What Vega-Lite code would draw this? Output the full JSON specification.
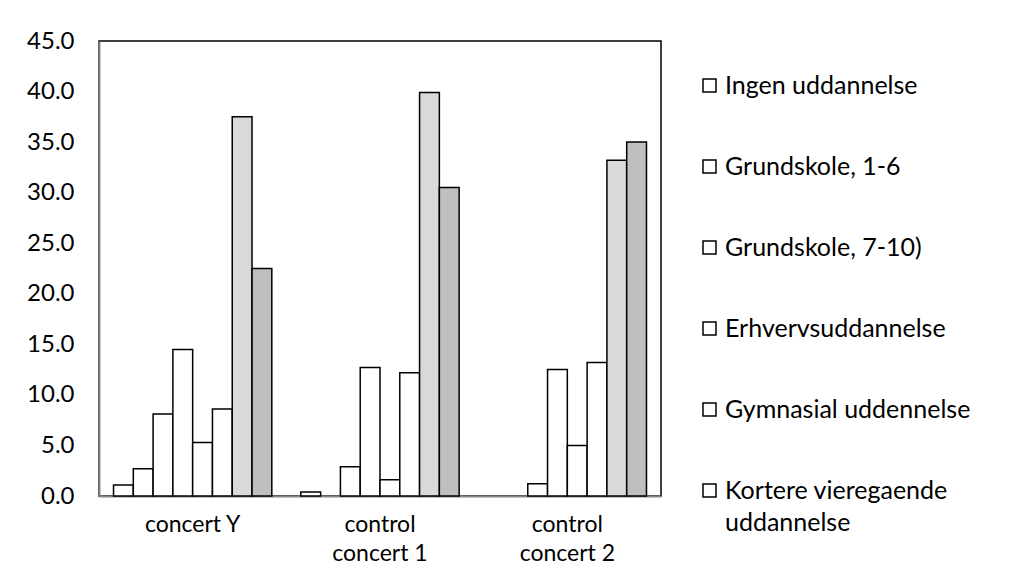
{
  "$schema": "https://vega.github.io/schema/vega-lite/v6.json",
  "width": 562,
  "height": 455,
  "autosize": {"type": "none"},
  "padding": {"left": 99, "top": 41, "right": 349, "bottom": 91},
  "background": "white",
  "config": {
    "font": "Lato",
    "view": {"stroke": "black", "strokeWidth": 1.5},
    "axis": {"labelFont": "Lato", "labelColor": "black", "labelFontSize": 23, "grid": false},
    "style": {"guide-label": {"lineHeight": 32}}
  },
  "data": {
    "values": [
      {"group": "concert Y", "level": "Ingen uddannelse", "pct": 1.1},
      {"group": "concert Y", "level": "Grundskole, 1-6", "pct": 2.7},
      {"group": "concert Y", "level": "Grundskole, 7-10)", "pct": 8.1},
      {"group": "concert Y", "level": "Erhvervsuddannelse", "pct": 14.5},
      {"group": "concert Y", "level": "Gymnasial uddennelse", "pct": 5.3},
      {"group": "concert Y", "level": "Kortere vieregaende uddannelse", "pct": 8.6},
      {"group": "concert Y", "level": "Mellemlange videregaende uddannelse", "pct": 37.5},
      {"group": "concert Y", "level": "Lange videregaende uddannelse", "pct": 22.5},
      {"group": "control concert 1", "level": "Ingen uddannelse", "pct": 0.4},
      {"group": "control concert 1", "level": "Grundskole, 7-10)", "pct": 2.9},
      {"group": "control concert 1", "level": "Erhvervsuddannelse", "pct": 12.7},
      {"group": "control concert 1", "level": "Gymnasial uddennelse", "pct": 1.6},
      {"group": "control concert 1", "level": "Kortere vieregaende uddannelse", "pct": 12.2},
      {"group": "control concert 1", "level": "Mellemlange videregaende uddannelse", "pct": 39.9},
      {"group": "control concert 1", "level": "Lange videregaende uddannelse", "pct": 30.5},
      {"group": "control concert 2", "level": "Grundskole, 7-10)", "pct": 1.2},
      {"group": "control concert 2", "level": "Erhvervsuddannelse", "pct": 12.5},
      {"group": "control concert 2", "level": "Gymnasial uddennelse", "pct": 5.0},
      {"group": "control concert 2", "level": "Kortere vieregaende uddannelse", "pct": 13.2},
      {"group": "control concert 2", "level": "Mellemlange videregaende uddannelse", "pct": 33.2},
      {"group": "control concert 2", "level": "Lange videregaende uddannelse", "pct": 35.0}
    ]
  },
  "mark": {"type": "bar", "stroke": "black", "strokeWidth": 1.5, "strokeJoin": "miter"},
  "encoding": {
    "x": {
      "field": "group",
      "type": "nominal",
      "sort": null,
      "title": null,
      "scale": {"paddingInner": 0.155, "paddingOuter": 0.0775},
      "axis": {
        "labelAngle": 0,
        "ticks": false,
        "domainColor": "#868686",
        "domainWidth": 2,
        "labelPadding": 17,
        "labelBaseline": "top",
        "labelLineHeight": 29,
        "labelExpr": "indexof(datum.label, 'control ') == 0 ? ['control', substring(datum.label, 8)] : datum.label"
      }
    },
    "xOffset": {
      "field": "level",
      "type": "nominal",
      "scale": {
        "domain": ["Ingen uddannelse", "Grundskole, 1-6", "Grundskole, 7-10)", "Erhvervsuddannelse", "Gymnasial uddennelse", "Kortere vieregaende uddannelse", "Mellemlange videregaende uddannelse", "Lange videregaende uddannelse"],
        "paddingInner": 0,
        "paddingOuter": 0
      }
    },
    "y": {
      "field": "pct",
      "type": "quantitative",
      "title": null,
      "scale": {"domain": [0, 45], "nice": false},
      "axis": {
        "values": [0, 5, 10, 15, 20, 25, 30, 35, 40, 45],
        "format": ".1f",
        "ticks": false,
        "domainColor": "#868686",
        "domainWidth": 2,
        "labelFontSize": 24,
        "labelPadding": 25
      }
    },
    "color": {
      "field": "level",
      "type": "nominal",
      "title": null,
      "scale": {
        "domain": ["Ingen uddannelse", "Grundskole, 1-6", "Grundskole, 7-10)", "Erhvervsuddannelse", "Gymnasial uddennelse", "Kortere vieregaende uddannelse", "Mellemlange videregaende uddannelse", "Lange videregaende uddannelse"],
        "range": ["white", "white", "white", "white", "white", "white", "#d9d9d9", "#bfbfbf"]
      },
      "legend": {
        "orient": "none",
        "legendX": 598,
        "legendY": 32,
        "padding": 0,
        "values": ["Ingen uddannelse", "Grundskole, 1-6", "Grundskole, 7-10)", "Erhvervsuddannelse", "Gymnasial uddennelse", "Kortere vieregaende uddannelse"],
        "symbolType": "square",
        "symbolSize": 169,
        "symbolStrokeColor": "black",
        "symbolStrokeWidth": 1.5,
        "symbolOpacity": 1,
        "labelFont": "Lato",
        "labelFontSize": 25,
        "labelColor": "black",
        "labelOffset": 3,
        "labelLimit": 400,
        "labelBaseline": "middle",
        "rowPadding": 55,
        "labelExpr": "datum.label == 'Kortere vieregaende uddannelse' ? ['Kortere vieregaende', 'uddannelse'] : datum.label"
      }
    }
  }
}
